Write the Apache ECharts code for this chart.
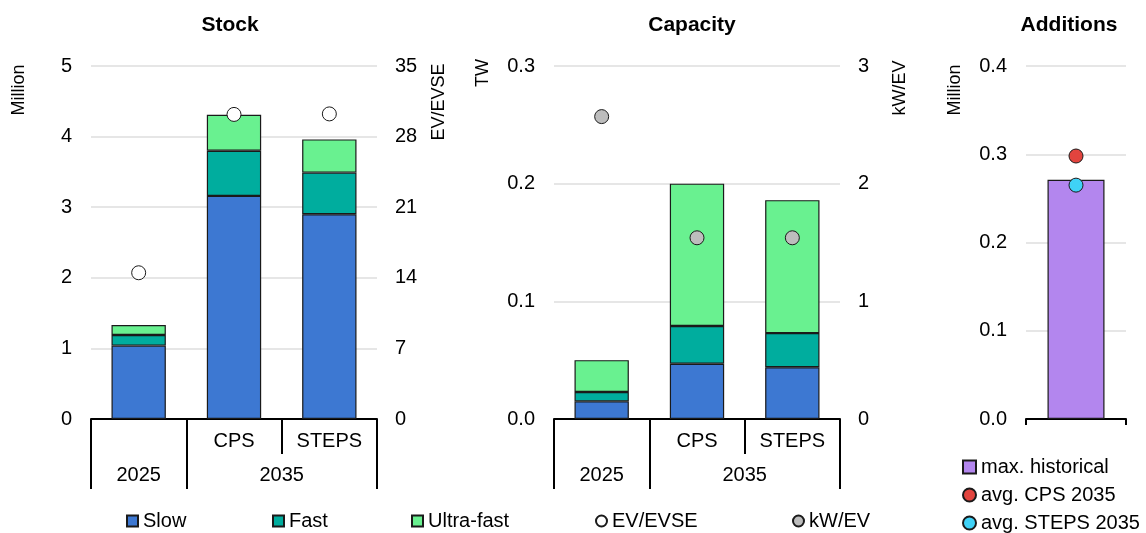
<!DOCTYPE html>
<html>
<head>
<meta charset="utf-8">
<script src="https://cdn.jsdelivr.net/npm/echarts@6/dist/echarts.min.js"></script>
<style>
  html, body { margin: 0; padding: 0; background: #fff; }
  #chart { width: 1146px; height: 533px; }
</style>
</head>
<body>
<div id="chart"></div>
<script>
// categories
const scenarios = ['', 'CPS', 'STEPS'];
const years = ['2025', '2035'];
const yearPos = [0.5, 2];          // centre of each year group, in category units

// Stock (million)
const stockSlow = [1.04, 3.16, 2.90];
const stockFast = [0.15, 0.64, 0.59];
const stockUltra = [0.14, 0.51, 0.47];
const evPerEvse = [14.5, 30.2, 30.25];

// Capacity (TW)
const capSlow = [0.015, 0.047, 0.044];
const capFast = [0.008, 0.032, 0.029];
const capUltra = [0.027, 0.121, 0.113];
const kwPerEv = [2.57, 1.54, 1.54];

// Additions (million)
const maxHistorical = [0.271];
const avgCps2035 = [0.298];
const avgSteps2035 = [0.265];

const FONT = 'Liberation Sans, Arial, sans-serif';
const C_SLOW = '#3d78d2';
const C_FAST = '#00ad9e';
const C_ULTRA = '#69f190';
const C_HIST = '#b386ee';
const BORDER = '#1a1a1a';

const labelStyle = { color: '#000', fontSize: 20, fontFamily: FONT };
const gridLine = { show: true, lineStyle: { color: '#dedede', width: 1.5 } };
const tickLine = { color: '#000', width: 2 };

// first level: scenario labels, long separators at group edges (0, 1, 3)
function catAxis(gridIndex) {
  return {
    type: 'category', gridIndex, data: scenarios, position: 'bottom',
    axisLine: { show: true, onZero: false, lineStyle: tickLine },
    axisTick: { show: true, length: 70, interval: i => i !== 2, lineStyle: tickLine },
    axisLabel: Object.assign({ margin: 12, interval: 0 }, labelStyle)
  };
}
// short separator between CPS and STEPS
function innerTicks(gridIndex) {
  return {
    type: 'category', gridIndex, data: scenarios, position: 'bottom',
    axisLine: { show: false, onZero: false },
    axisTick: { show: true, length: 35, interval: i => i >= 1, lineStyle: tickLine },
    axisLabel: { show: false }
  };
}
// second level: years
function yearAxis(gridIndex) {
  return {
    type: 'value', gridIndex, min: 0, max: 3, position: 'bottom', offset: 35,
    axisLine: { show: false, onZero: false },
    splitLine: { show: false },
    axisTick: { show: false },
    axisLabel: Object.assign({
      margin: 11, customValues: yearPos,
      formatter: v => years[yearPos.indexOf(v)] || ''
    }, labelStyle)
  };
}
function valAxis(gridIndex, max, interval, pos, digits, split) {
  return {
    type: 'value', gridIndex, min: 0, max, interval, position: pos,
    axisLine: { show: false }, axisTick: { show: false },
    splitLine: split ? gridLine : { show: false },
    axisLabel: Object.assign({
      margin: pos === 'left' ? 19 : 18,
      formatter: v => v.toFixed(digits)
    }, labelStyle)
  };
}
function bar(name, data, x, y, color, stack) {
  return {
    name, type: 'bar', xAxisIndex: x, yAxisIndex: y, data, stack,
    barWidth: '57%',
    itemStyle: { color, borderColor: BORDER, borderWidth: 1.2 }
  };
}
function dots(name, data, x, y, color) {
  return {
    name, type: 'scatter', xAxisIndex: x, yAxisIndex: y, data, z: 5,
    symbol: 'circle', symbolSize: 14,
    itemStyle: { color, borderColor: BORDER, borderWidth: 1, opacity: 1 }
  };
}
function legendItem(name, left, icon) {
  return {
    data: [{ name, icon }], left, top: 511, padding: 0, itemWidth: 11, itemHeight: 11,
    textStyle: { color: '#000', fontSize: 20, fontFamily: FONT, lineHeight: 19 },
    selectedMode: false
  };
}
function vText(text, x, y) {
  return {
    type: 'text', x, y, rotation: Math.PI / 2,
    style: { text, fill: '#000', font: '18px ' + FONT, textAlign: 'center', textVerticalAlign: 'middle' }
  };
}
function title(text, x) {
  return {
    type: 'text', x, y: 25,
    style: { text, fill: '#000', font: 'bold 21px ' + FONT, textAlign: 'center', textVerticalAlign: 'middle' }
  };
}

const option = {
  animation: false,
  textStyle: { fontFamily: FONT },
  grid: [
    { left: 91, right: 769, top: 66, bottom: 114 },
    { left: 554, right: 306, top: 66, bottom: 114 },
    { left: 1026, right: 20, top: 66, bottom: 114 }
  ],
  xAxis: [
    catAxis(0),
    innerTicks(0),
    yearAxis(0),
    catAxis(1),
    innerTicks(1),
    yearAxis(1),
    {
      type: 'category', gridIndex: 2, data: [''], position: 'bottom',
      axisLine: { show: true, onZero: false, lineStyle: tickLine },
      axisTick: { show: true, length: 6, lineStyle: tickLine },
      axisLabel: { show: false }
    }
  ],
  yAxis: [
    valAxis(0, 5, 1, 'left', 0, true),
    valAxis(0, 35, 7, 'right', 0, false),
    valAxis(1, 0.3, 0.1, 'left', 1, true),
    valAxis(1, 3, 1, 'right', 0, false),
    valAxis(2, 0.4, 0.1, 'left', 1, true)
  ],
  legend: [
    legendItem('Slow', 126, 'rect'),
    legendItem('Fast', 272, 'rect'),
    legendItem('Ultra-fast', 411, 'rect'),
    legendItem('EV/EVSE', 595, 'circle'),
    legendItem('kW/EV', 792, 'circle'),
    {
      orient: 'vertical', left: 962, top: 457, padding: 0, itemGap: 8, itemWidth: 13, itemHeight: 13,
      data: [
        { name: 'max. historical', icon: 'rect' },
        { name: 'avg. CPS 2035', icon: 'circle' },
        { name: 'avg. STEPS 2035', icon: 'circle' }
      ],
      textStyle: { color: '#000', fontSize: 20, fontFamily: FONT, lineHeight: 19 },
      selectedMode: false
    }
  ],
  graphic: [
    title('Stock', 230),
    title('Capacity', 692),
    title('Additions', 1069),
    vText('Million', 19, 90),
    vText('EV/EVSE', 439, 102),
    vText('TW', 483, 73),
    vText('kW/EV', 900, 88),
    vText('Million', 955, 90)
  ],
  series: [
    bar('Slow', stockSlow, 0, 0, C_SLOW, 'stock'),
    bar('Fast', stockFast, 0, 0, C_FAST, 'stock'),
    bar('Ultra-fast', stockUltra, 0, 0, C_ULTRA, 'stock'),
    dots('EV/EVSE', evPerEvse, 0, 1, '#ffffff'),
    bar('Slow', capSlow, 3, 2, C_SLOW, 'cap'),
    bar('Fast', capFast, 3, 2, C_FAST, 'cap'),
    bar('Ultra-fast', capUltra, 3, 2, C_ULTRA, 'cap'),
    dots('kW/EV', kwPerEv, 3, 3, '#bdbdbd'),
    bar('max. historical', maxHistorical, 6, 4, C_HIST),
    dots('avg. CPS 2035', avgCps2035, 6, 4, '#e2443e'),
    dots('avg. STEPS 2035', avgSteps2035, 6, 4, '#3fd2f7')
  ]
};

const myChart = echarts.init(document.getElementById('chart'), null, { renderer: 'canvas' });
myChart.setOption(option);
window.addEventListener('resize', () => myChart.resize());
</script>
</body>
</html>
